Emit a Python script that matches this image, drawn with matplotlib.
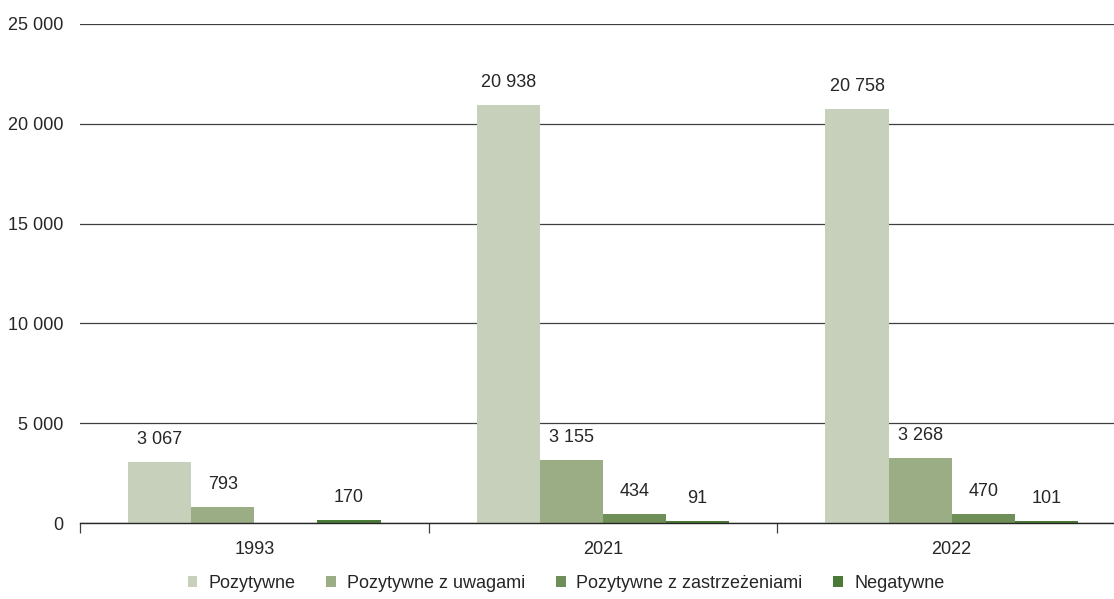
import numpy as np
import matplotlib
matplotlib.use("Agg")
import matplotlib.pyplot as plt
from matplotlib.ticker import FuncFormatter

plt.rcParams['font.family'] = ['Liberation Sans', 'DejaVu Sans']

lata = ['1993', '2021', '2022']
serie = ['Pozytywne', 'Pozytywne z uwagami', 'Pozytywne z zastrzeżeniami', 'Negatywne']
pozytywne = [3067, 20938, 20758]
z_uwagami = [793, 3155, 3268]
z_zastrzezeniami = [None, 434, 470]
negatywne = [170, 91, 101]
kolory = ['#c6d0bb', '#9aad84', '#6f8f58', '#4a7a38']

dane = [pozytywne, z_uwagami, z_zastrzezeniami, negatywne]


def fmt(v):
    return f"{int(v):,}".replace(",", " ")


fig = plt.figure(figsize=(11.14, 5.99), dpi=100)
ax = fig.add_axes([80 / 1114, 1 - 523 / 599, 1046 / 1114, 499 / 599])

x = np.arange(len(lata))
w = 0.181
for i, (wart, kol, nazwa) in enumerate(zip(dane, kolory, serie)):
    pos = x + (i - 1.5) * w
    h = [np.nan if v is None else v for v in wart]
    ax.bar(pos, h, width=w, color=kol, label=nazwa, zorder=3)
    for p, v in zip(pos, wart):
        if v is None:
            continue
        ax.annotate(fmt(v), (p, v), xytext=(0, 10), textcoords='offset points',
                    ha='center', va='bottom', fontsize=13, color='#262626')

ax.set_xlim(-0.5, 2.5)
ax.set_ylim(0, 25000)
ax.set_yticks(range(0, 25001, 5000))
ax.yaxis.set_major_formatter(FuncFormatter(lambda v, _: fmt(v)))
ax.grid(axis='y', color='#404040', linewidth=0.9, zorder=0)
ax.tick_params(axis='y', length=0, pad=12, labelsize=13, labelcolor='#262626')

ax.set_xticks(x)
ax.set_xticklabels(lata)
ax.set_xticks([-0.5, 0.5, 1.5, 2.5], minor=True)
ax.tick_params(axis='x', which='major', length=0, pad=13, labelsize=13, labelcolor='#262626')
ax.tick_params(axis='x', which='minor', length=7, width=0.9, color='#404040')

for s in ['top', 'right', 'left']:
    ax.spines[s].set_visible(False)
ax.spines['bottom'].set_color('#262626')
ax.spines['bottom'].set_linewidth(1.0)
ax.spines['bottom'].set_zorder(4)

fig.legend(loc='center', bbox_to_anchor=(566 / 1114, 1 - 583 / 599), ncol=4,
           frameon=False, fontsize=13, handlelength=0.55, handleheight=0.55,
           handletextpad=0.6, columnspacing=1.7, labelcolor='#262626')

fig.savefig('out.png', dpi=100)
